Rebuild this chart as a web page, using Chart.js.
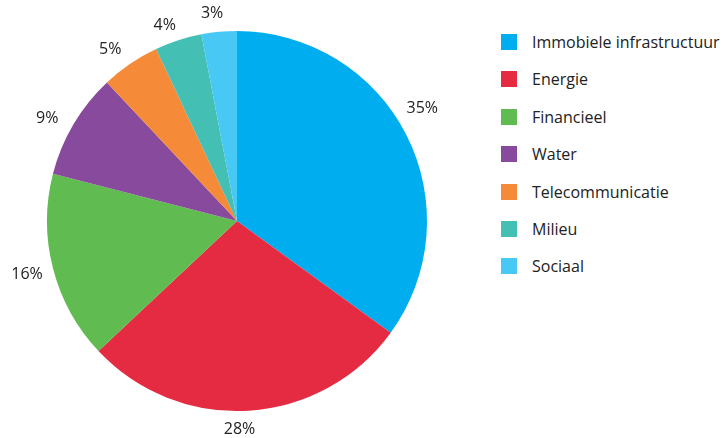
<!DOCTYPE html>
<html>
<head>
<meta charset="utf-8">
<script src="https://cdn.jsdelivr.net/npm/chart.js@4.4.0/dist/chart.umd.min.js"></script>
<style>
    body { margin: 0; background: #fff; font-family: "Open Sans", sans-serif; }
    #wrap { position: relative; width: 724px; height: 438px; }
    #chartBox { position: absolute; left: 0; top: 0; width: 474px; height: 438px; }
    #legend { position: absolute; left: 501px; top: 34px; margin: 0; padding: 0; list-style: none; }
    #legend li { height: 37.4px; display: flex; align-items: flex-start; font-size: 16px; color: #222; white-space: nowrap; }
    #legend span.box { width: 16px; height: 16px; margin-right: 15px; }
    #legend span.txt { line-height: 16px; }
</style>
</head>
<body>
<div id="wrap">
    <div id="chartBox"><canvas id="pieChart"></canvas></div>
    <ul id="legend"></ul>
</div>
<script>
const categories = ['Immobiele infrastructuur', 'Energie', 'Financieel', 'Water', 'Telecommunicatie', 'Milieu', 'Sociaal'];
const shares = [35, 28, 16, 9, 5, 4, 3];
const colors = ['#00aeef', '#e52b42', '#60bb50', '#884a9c', '#f58a38', '#43bfb3', '#48c9f5'];

// Legend (HTML)
document.getElementById('legend').innerHTML = categories.map((c, i) => `
    <li><span class="box" style="background:${colors[i]}"></span><span class="txt">${c}</span></li>
`).join('');

// small hand tweaks so the labels sit where the original put them
const labelNudge = [[-7, -18], [-11, 1], [-1, 2], [-8, 3], [-8, 0], [-7, 2], [-5, 0]];

// Percent labels outside the slices
const outsideLabels = {
    id: 'outsideLabels',
    afterDatasetsDraw(chart) {
        const ctx = chart.ctx;
        const meta = chart.getDatasetMeta(0);
        ctx.save();
        ctx.font = '16px "Open Sans"';
        ctx.fillStyle = '#222';
        ctx.textAlign = 'center';
        ctx.textBaseline = 'middle';
        meta.data.forEach((arc, i) => {
            const text = shares[i] + '%';
            const w = ctx.measureText(text).width;
            const mid = (arc.startAngle + arc.endAngle) / 2;
            const r = arc.outerRadius + 10;
            const x = arc.x + Math.cos(mid) * (r + w / 2) + labelNudge[i][0];
            const y = arc.y + Math.sin(mid) * (r + 8) + labelNudge[i][1];
            ctx.fillText(text, x, y);
        });
        ctx.restore();
    }
};

new Chart(document.getElementById('pieChart').getContext('2d'), {
    type: 'pie',
    data: {
        labels: categories,
        datasets: [{
            data: shares,
            backgroundColor: colors,
            borderWidth: 0,
            radius: 190
        }]
    },
    options: {
        responsive: true,
        maintainAspectRatio: false,
        animation: false,
        layout: { padding: { top: 4 } },
        plugins: {
            legend: { display: false },
            tooltip: { enabled: false }
        }
    },
    plugins: [outsideLabels]
});
</script>
</body>
</html>
